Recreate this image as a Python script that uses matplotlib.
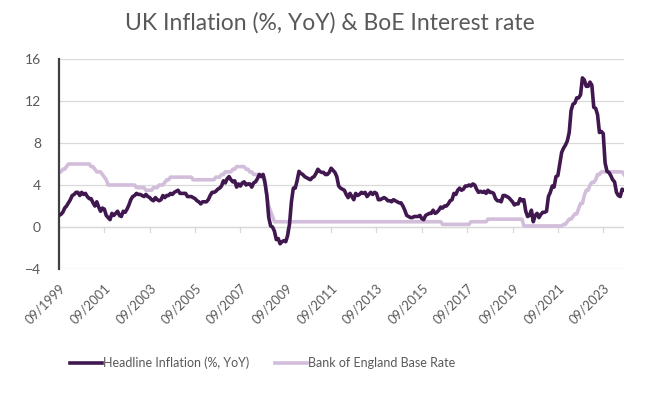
import matplotlib
matplotlib.use("Agg")
import matplotlib.pyplot as plt
import numpy as np
import pandas as pd

plt.rcParams["font.family"] = ["Lato", "DejaVu Sans"]

# monthly, 09/1999 .. 08/2024
start = "1999-09"
inflation = [
    1.1, 1.2, 1.4, 1.8,
    2.0, 2.3, 2.6, 3.0, 3.1, 3.3, 3.3, 3.0, 3.3, 3.1, 3.2, 2.9,
    2.7, 2.7, 2.3, 2.0, 2.4, 1.9, 1.5, 1.8, 1.7, 1.1, 0.9, 0.7,
    1.3, 1.1, 1.3, 1.5, 1.1, 1.0, 1.5, 1.4, 1.7, 2.1, 2.6, 2.9,
    3.0, 3.2, 3.1, 3.1, 3.0, 2.9, 3.1, 2.9, 2.8, 2.6, 2.5, 2.8,
    2.6, 2.5, 2.6, 3.0, 2.8, 3.0, 3.0, 3.2, 3.1, 3.3, 3.4, 3.5,
    3.2, 3.2, 3.2, 3.2, 2.9, 2.9, 2.9, 2.8, 2.7, 2.5, 2.4, 2.2,
    2.4, 2.4, 2.4, 2.6, 3.0, 3.3, 3.3, 3.4, 3.6, 3.7, 3.9, 4.4,
    4.2, 4.6, 4.8, 4.5, 4.3, 4.4, 3.8, 4.1, 3.9, 4.2, 4.3, 4.0,
    4.1, 4.1, 3.8, 4.2, 4.3, 4.6, 5.0, 4.8, 5.0, 4.2, 3.0, 0.9,
    0.1, 0.0, -0.4, -1.2, -1.1, -1.6, -1.4, -1.3, -1.4, -0.8, 0.3, 2.4,
    3.7, 3.7, 4.4, 5.3, 5.1, 5.0, 4.8, 4.7, 4.6, 4.5, 4.7, 4.8,
    5.1, 5.5, 5.3, 5.2, 5.2, 5.0, 5.0, 5.2, 5.6, 5.4, 5.2, 4.8,
    3.9, 3.7, 3.6, 3.5, 3.1, 2.8, 3.2, 2.9, 2.6, 3.2, 3.0, 3.1,
    3.3, 3.2, 3.3, 2.9, 3.1, 3.3, 3.1, 3.3, 3.2, 2.6, 2.6, 2.7,
    2.8, 2.7, 2.5, 2.5, 2.4, 2.6, 2.5, 2.4, 2.3, 2.3, 2.0, 1.6,
    1.1, 1.0, 0.9, 0.9, 1.0, 1.0, 1.0, 1.1, 0.8, 0.7, 1.1, 1.2,
    1.3, 1.3, 1.6, 1.3, 1.4, 1.6, 1.9, 1.8, 2.0, 2.0, 2.2, 2.5,
    2.6, 3.2, 3.1, 3.5, 3.7, 3.5, 3.6, 3.9, 3.9, 4.0, 3.9, 4.1,
    4.0, 3.6, 3.3, 3.4, 3.3, 3.4, 3.2, 3.5, 3.3, 3.3, 3.2, 2.7,
    2.5, 2.5, 2.4, 3.0, 3.0, 2.9, 2.8, 2.6, 2.4, 2.1, 2.2, 2.2,
    2.7, 2.5, 2.6, 1.5, 1.0, 1.1, 1.6, 0.5, 1.1, 1.3, 0.9, 1.2,
    1.4, 1.4, 1.5, 2.9, 3.3, 3.9, 3.8, 4.8, 4.9, 6.0, 7.1, 7.5,
    7.8, 8.2, 9.0, 11.1, 11.7, 11.8, 12.3, 12.3, 12.6, 14.2, 14.0, 13.4,
    13.4, 13.8, 13.5, 11.4, 11.3, 10.7, 9.0, 9.1, 8.9, 6.1, 5.3, 5.2,
    4.9, 4.5, 4.3, 3.3, 3.0, 2.9, 3.6, 3.5,
]

# Bank Rate changes: (month, new level)
rate_changes = [
    ("1999-09", 5.25), ("1999-11", 5.5), ("2000-01", 5.75), ("2000-02", 6.0),
    ("2001-02", 5.75), ("2001-04", 5.5), ("2001-05", 5.25), ("2001-08", 5.0),
    ("2001-09", 4.75), ("2001-10", 4.5), ("2001-11", 4.0), ("2003-02", 3.75),
    ("2003-07", 3.5), ("2003-11", 3.75), ("2004-02", 4.0), ("2004-05", 4.25),
    ("2004-06", 4.5), ("2004-08", 4.75), ("2005-08", 4.5), ("2006-08", 4.75),
    ("2006-11", 5.0), ("2007-01", 5.25), ("2007-05", 5.5), ("2007-07", 5.75),
    ("2007-12", 5.5), ("2008-02", 5.25), ("2008-04", 5.0), ("2008-10", 4.5),
    ("2008-11", 3.0), ("2008-12", 2.0), ("2009-01", 1.5), ("2009-02", 1.0),
    ("2009-03", 0.5), ("2016-08", 0.25), ("2017-11", 0.5), ("2018-08", 0.75),
    ("2020-03", 0.1), ("2021-12", 0.25), ("2022-02", 0.5), ("2022-03", 0.75),
    ("2022-05", 1.0), ("2022-06", 1.25), ("2022-08", 1.75), ("2022-09", 2.25),
    ("2022-11", 3.0), ("2022-12", 3.5), ("2023-02", 4.0), ("2023-03", 4.25),
    ("2023-05", 4.5), ("2023-06", 5.0), ("2023-08", 5.25), ("2024-08", 5.0),
]

months = pd.period_range(start, periods=len(inflation), freq="M")
rate = pd.Series(dict(rate_changes))
rate.index = pd.PeriodIndex(rate.index, freq="M")
base_rate = rate.reindex(months).ffill().to_numpy()

DARK = "#40174f"
LIGHT = "#d2bddb"
GREY_TXT = "#595959"
GRID = "#d9d9d9"

fig = plt.figure(figsize=(6.6, 3.98), dpi=100)
ax = fig.add_axes([59 / 660, 1 - 269 / 398, (624 - 59) / 660, (269 - 59) / 398])

x = np.arange(len(months))
ax.plot(x, base_rate, color=LIGHT, lw=2.6, label="Bank of England Base Rate", zorder=2)
ax.plot(x, inflation, color=DARK, lw=2.6, label="Headline Inflation (%, YoY)", zorder=3)

ax.set_xlim(0, len(months) - 1)
ax.set_ylim(-4, 16)
ax.set_yticks(np.arange(-4, 17, 4))
ax.grid(axis="y", color=GRID, lw=0.9)
ax.set_axisbelow(True)

for s in ["top", "right", "bottom"]:
    ax.spines[s].set_visible(False)
ax.spines["left"].set_color("#404040")
ax.spines["left"].set_linewidth(1.6)
ax.axhline(0, color=GRID, lw=0.9, zorder=1)

tick_pos = np.arange(0, len(months), 24)
ax.set_xticks(tick_pos)
ax.set_xticklabels([months[i].strftime("%m/%Y") for i in tick_pos],
                   rotation=45, ha="right", rotation_mode="anchor")
ax.tick_params(axis="x", length=0, pad=9, labelsize=9.3, labelcolor=GREY_TXT)
ax.tick_params(axis="y", length=0, pad=13, labelsize=10, labelcolor=GREY_TXT)
# small tick marks on the zero line
for p in tick_pos:
    ax.plot([p, p], [0, -0.5], color=GRID, lw=0.9, zorder=1, clip_on=False)

fig.suptitle("UK Inflation (%, YoY) & BoE Interest rate", x=0.5, y=0.97,
             fontsize=16.5, color=GREY_TXT)

handles, labels = ax.get_legend_handles_labels()
fig.legend(handles[::-1], labels[::-1], loc="center", bbox_to_anchor=(0.398, 0.088),
           ncol=2, frameon=False, fontsize=9, labelcolor=GREY_TXT,
           handlelength=2.5, handletextpad=0.1, columnspacing=2.1)

fig.savefig("out.png", dpi=100)
